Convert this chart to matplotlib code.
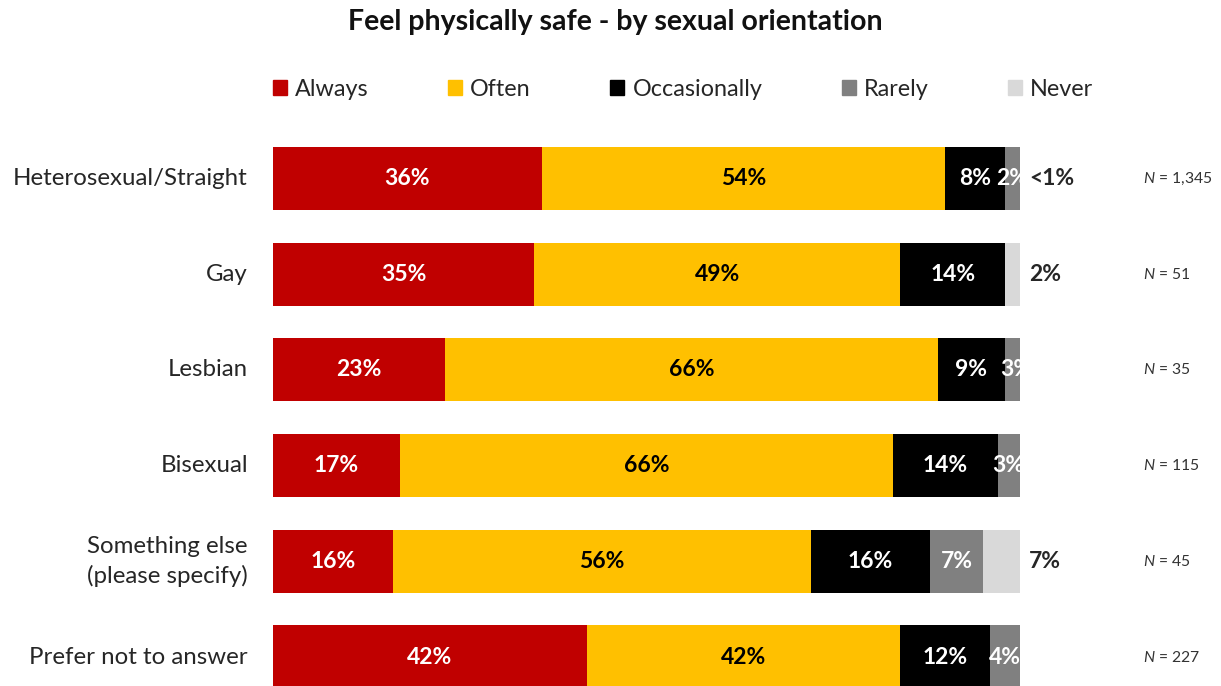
import matplotlib
matplotlib.use('Agg')
import matplotlib.pyplot as plt
import numpy as np

plt.rcParams['font.family'] = ['Lato', 'DejaVu Sans']
plt.rcParams['mathtext.fontset'] = 'custom'
plt.rcParams['mathtext.it'] = 'Lato:italic'
plt.rcParams['mathtext.rm'] = 'Lato'

# Survey results (percent of respondents)
groups = ['Heterosexual/Straight', 'Gay', 'Lesbian', 'Bisexual',
          'Something else\n(please specify)', 'Prefer not to answer']
responses = ['Always', 'Often', 'Occasionally', 'Rarely', 'Never']
always = [36, 35, 23, 17, 16, 42]
often = [54, 49, 66, 66, 56, 42]
occasionally = [8, 14, 9, 14, 16, 12]
rarely = [2, 0, 3, 3, 7, 4]
never = [0.5, 2, 0, 0, 7, 0]
never_labels = ['<1%', '2%', '', '', '7%', '']
sample_sizes = ['1,345', '51', '35', '115', '45', '227']

colors = ['#C00000', '#FFC000', '#000000', '#808080', '#D9D9D9']
text_colors = ['white', 'black', 'white', 'white', None]

W, H = 1221, 686
fig = plt.figure(figsize=(W / 100, H / 100), dpi=100)

# axes spans the 0-100% bar area
x0, x1 = 273, 1020
ax = fig.add_axes([x0 / W, 0, (x1 - x0) / W, 1])
step = 95.7
top_c = 178.5
ax.set_ylim((H - top_c) / step, -top_c / step)
ax.set_xlim(0, 100)
ax.axis('off')

y = np.arange(len(groups))
series = [always, often, occasionally, rarely, never]
left = np.zeros(len(groups))
for vals, col, tcol in zip(series, colors, text_colors):
    vals = np.array(vals, dtype=float)
    ax.barh(y, vals, left=left, height=0.66, color=col, edgecolor='none')
    if tcol is not None:
        for yi, (l, v) in enumerate(zip(left, vals)):
            if v > 0:
                ax.text(l + v / 2, yi, f'{v:.0f}%', ha='center', va='center',
                        color=tcol, fontsize=16.5, fontweight='bold')
    left += vals

# group labels, Never shares and sample sizes
for yi, name in enumerate(groups):
    yc = 1 - (top_c + step * yi) / H
    fig.text(248 / W, yc, name, ha='right', va='center',
             fontsize=17.3, color='#262626', linespacing=1.45)
    if never_labels[yi]:
        fig.text(1029 / W, yc, never_labels[yi], ha='left', va='center',
                 fontsize=16.5, fontweight='bold', color='#262626')
    fig.text(1143 / W, yc, f'$N$ = {sample_sizes[yi]}', ha='left', va='center',
             fontsize=11.3, color='#333333')

fig.text(615 / W, 1 - 22 / H, 'Feel physically safe - by sexual orientation',
         ha='center', va='center', fontsize=20.5, fontweight='bold', color='#111111')

handles = [plt.Rectangle((0, 0), 1, 1, color=c) for c in colors]
fig.legend(handles, responses, loc='center left', bbox_to_anchor=(252 / W, 1 - 89 / H),
           ncol=5, frameon=False, fontsize=16.8, handlelength=0.6, handleheight=0.6,
           handletextpad=0.35, columnspacing=3.4, labelcolor='#262626')

fig.savefig('out.png', dpi=100)
